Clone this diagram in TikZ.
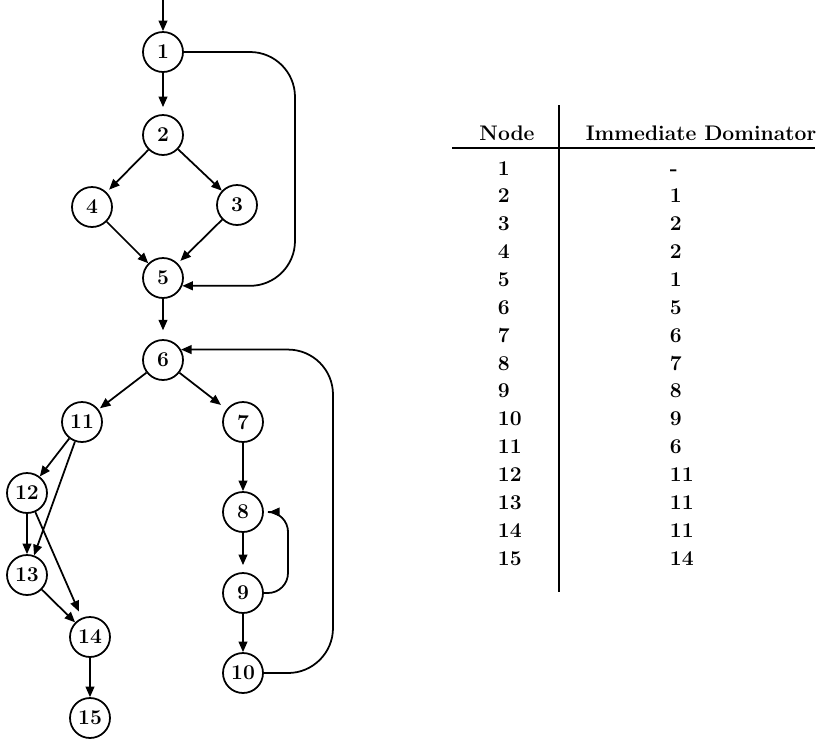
\documentclass[tikz,border=0pt]{standalone}
\usetikzlibrary{arrows.meta}
\begin{document}
\begin{tikzpicture}[
      x=0.02cm, y=-0.02cm,
      line width=1pt,
      >={Triangle[length=6pt,width=5pt]},
      vtx/.style={
        circle,
        draw,
        minimum size=0.8cm,
        inner sep=0pt,   % circle size set by minimum size
        font=\large\bfseries
      },
      cell/.style={
        anchor=west,
        inner sep=0pt,
        text height=8pt,
        text depth=0pt,
        font=\large\bfseries
      }]
      \useasboundingbox (0,0) rectangle (829,738);

      % flow graph
      \node[vtx] (n1) at (163,52) {1};
      \node[vtx] (n2) at (163,135) {2};
      \node[vtx] (n4) at (92,207) {4};
      \node[vtx] (n3) at (237,205) {3};
      \node[vtx] (n5) at (163,278) {5};
      \node[vtx] (n6) at (163,360) {6};
      \node[vtx] (n11) at (82,422) {11};
      \node[vtx] (n7) at (243,422) {7};
      \node[vtx] (n12) at (27,493) {12};
      \node[vtx] (n8) at (243,512) {8};
      \node[vtx] (n13) at (27,575) {13};
      \node[vtx] (n9) at (243,593) {9};
      \node[vtx] (n14) at (90,637) {14};
      \node[vtx] (n10) at (243,673) {10};
      \node[vtx] (n15) at (90,718) {15};

      \coordinate (entry) at (163,0);
      \coordinate (r1) at (295,160);
      \coordinate (r9) at (288,550);
      \coordinate (r10) at (333,500);

      \draw[->] (entry) -- (n1);
      \draw[->, shorten >=4pt] (n1) -- (n2);
      \draw[->, shorten >=2pt] (n2) -- (n4);
      \draw[->] (n2) -- (n3);
      \draw[->] (n4) -- (n5);
      \draw[->, shorten >=2pt] (n3) -- (n5);
      \draw[->, rounded corners=0.9cm] (n1.east) -| (r1) |- (n5.-22);
      \draw[->, shorten >=5pt] (n5) -- (n6);
      \draw[->, shorten >=1pt] (n6) -- (n11);
      \draw[->, shorten >=4pt] (n6) -- (n7);
      \draw[->] (n11) -- (n12);
      \draw[->] (n11) -- (n13);
      \draw[->] (n12) -- (n13);
      \draw[->, shorten >=4pt] (n12) -- (n14);
      \draw[->] (n13) -- (n14);
      \draw[->] (n14) -- (n15);
      \draw[->] (n7) -- (n8);
      \draw[->, shorten >=4pt] (n8) -- (n9);
      \draw[->] (n9) -- (n10);
      \draw[->, rounded corners=0.4cm, shorten >=3pt] (n9.east) -| (r9) |- (n8.east);
      \draw[->, rounded corners=0.9cm] (n10.east) -| (r10) |- (n6.30);

      % dominator table
      \coordinate (vtop) at (559,105);
      \coordinate (vbot) at (559,592);
      \coordinate (hleft) at (452,148);
      \coordinate (hright) at (815,148);
      \draw (vtop) -- (vbot);
      \draw (hleft) -- (hright);

      \node[cell, anchor=center] (hnode) at (507,133) {Node};
      \node[cell, anchor=center] (hdom) at (701,133) {Immediate Dominator};

      \node[cell] (a1) at (497,168) {1};    \node[cell] (b1) at (669,168) {-};
      \node[cell] (a2) at (497,195.9) {2};  \node[cell] (b2) at (669,195.9) {1};
      \node[cell] (a3) at (497,223.7) {3};  \node[cell] (b3) at (669,223.7) {2};
      \node[cell] (a4) at (497,251.6) {4};  \node[cell] (b4) at (669,251.6) {2};
      \node[cell] (a5) at (497,279.4) {5};  \node[cell] (b5) at (669,279.4) {1};
      \node[cell] (a6) at (497,307.3) {6};  \node[cell] (b6) at (669,307.3) {5};
      \node[cell] (a7) at (497,335.1) {7};  \node[cell] (b7) at (669,335.1) {6};
      \node[cell] (a8) at (497,363) {8};    \node[cell] (b8) at (669,363) {7};
      \node[cell] (a9) at (497,390.9) {9};  \node[cell] (b9) at (669,390.9) {8};
      \node[cell] (a10) at (497,418.7) {10}; \node[cell] (b10) at (669,418.7) {9};
      \node[cell] (a11) at (497,446.6) {11}; \node[cell] (b11) at (669,446.6) {6};
      \node[cell] (a12) at (497,474.4) {12}; \node[cell] (b12) at (669,474.4) {11};
      \node[cell] (a13) at (497,502.3) {13}; \node[cell] (b13) at (669,502.3) {11};
      \node[cell] (a14) at (497,530.1) {14}; \node[cell] (b14) at (669,530.1) {11};
      \node[cell] (a15) at (497,558) {15};   \node[cell] (b15) at (669,558) {14};
    \end{tikzpicture}
\end{document}
